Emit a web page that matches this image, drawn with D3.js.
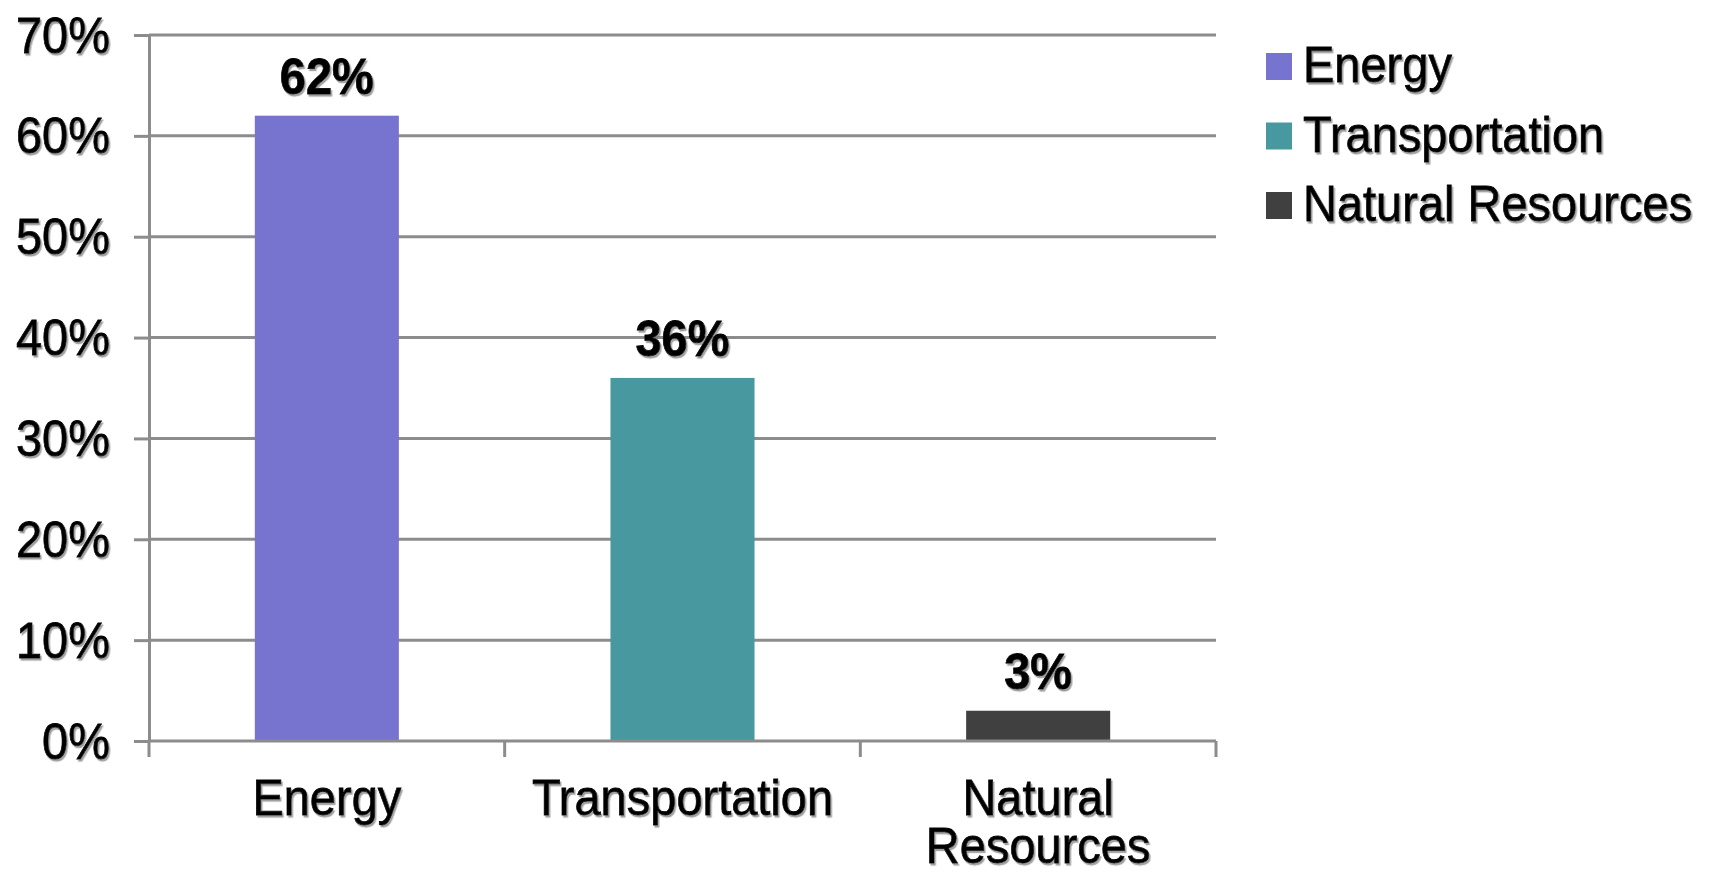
<!DOCTYPE html>
<html>
<head>
<meta charset="utf-8">
<script src="https://cdn.jsdelivr.net/npm/d3@7"></script>
<style>
  body { margin: 0; background: #fff; }
  text { font-family: "Liberation Sans", Arial, sans-serif; fill: #000; stroke: #000; stroke-width: 0.7px; }
</style>
</head>
<body>
<div id="chart"></div>
<script>
// chart data
var categories = ["Energy", "Transportation", "Natural Resources"];
var catLabels = [["Energy"], ["Transportation"], ["Natural", "Resources"]];
var shares = [0.62, 0.36, 0.03];
var valueLabels = ["62%", "36%", "3%"];
var colors = ["#7674cf", "#48999f", "#404040"];
var yTicks = [0, 0.1, 0.2, 0.3, 0.4, 0.5, 0.6, 0.7];

var W = 1717, H = 872;
var plot = {left: 149, right: 1216, top: 35, bottom: 741};
var fs = 47, stretch = 1.08;

var svg = d3.select("#chart")
            .append("svg")
            .attr("width", W)
            .attr("height", H);

// soft grey halo under the text, like the original rendering
var f = svg.append("defs").append("filter").attr("id", "halo")
           .attr("x", "-5%").attr("y", "-5%").attr("width", "110%").attr("height", "120%");
f.append("feDropShadow").attr("dx", 1.5).attr("dy", 2).attr("stdDeviation", 0.6)
 .attr("flood-color", "#777").attr("flood-opacity", 0.7);

var yScale = d3.scaleLinear()
               .domain([0, 0.7])
               .range([plot.bottom, plot.top]);
var xScale = d3.scaleBand()
               .domain(categories)
               .range([plot.left, plot.right]);
var step = xScale.step();
var barW = step * 0.405;

// gridlines
svg.append("g")
   .selectAll("line")
   .data(yTicks.slice(1))
   .enter()
   .append("line")
   .attr("x1", plot.left)
   .attr("x2", plot.right)
   .attr("y1", d=>yScale(d))
   .attr("y2", d=>yScale(d))
   .attr("stroke", "#8c8c8c")
   .attr("stroke-width", 3);

// y axis
var yAxis = svg.append("g")
               .attr("transform", "translate(" + plot.left + ",0)")
               .call(d3.axisLeft(yScale).tickValues(yTicks).tickSize(15).tickSizeOuter(0).tickFormat(d3.format(".0%")));
yAxis.select(".domain").attr("stroke", "#8c8c8c").attr("stroke-width", 3);
yAxis.selectAll(".tick line").attr("stroke", "#8c8c8c").attr("stroke-width", 3);
yAxis.selectAll(".tick text")
     .attr("x", null).attr("dy", null)
     .attr("text-anchor", "end")
     .attr("font-size", fs)
     .attr("filter", "url(#halo)")
     .attr("transform", "translate(-39,17) scale(1," + stretch + ")");

// bars
svg.append("g")
   .selectAll("rect")
   .data(categories)
   .enter()
   .append("rect")
   .attr("x", d=>xScale(d) + (step - barW) / 2)
   .attr("width", barW)
   .attr("y", (d, i)=>yScale(shares[i]))
   .attr("height", (d, i)=>yScale(0) - yScale(shares[i]))
   .attr("fill", (d, i)=>colors[i]);

// x axis line with boundary ticks
svg.append("line")
   .attr("x1", plot.left).attr("x2", plot.right)
   .attr("y1", yScale(0)).attr("y2", yScale(0))
   .attr("stroke", "#8c8c8c").attr("stroke-width", 3);
var bounds = categories.map(d=>xScale(d)).concat([plot.right]);
svg.append("g")
   .selectAll("line")
   .data(bounds)
   .enter()
   .append("line")
   .attr("x1", d=>d).attr("x2", d=>d)
   .attr("y1", yScale(0)).attr("y2", yScale(0) + 16)
   .attr("stroke", "#8c8c8c").attr("stroke-width", 3);

// value labels
svg.append("g")
   .selectAll("text")
   .data(categories)
   .enter()
   .append("text")
   .attr("transform", (d, i)=>"translate(" + (xScale(d) + step / 2) + "," + (yScale(shares[i]) - 22) + ") scale(1," + stretch + ")")
   .attr("text-anchor", "middle")
   .attr("font-size", fs)
   .attr("font-weight", "bold")
   .attr("filter", "url(#halo)")
   .text((d, i)=>valueLabels[i]);

// category labels
var cat = svg.append("g")
             .selectAll("g")
             .data(categories)
             .enter()
             .append("g");
cat.selectAll("text")
   .data((d, i)=>catLabels[i].map(t=>({t: t, c: d})))
   .enter()
   .append("text")
   .attr("transform", (d, j)=>"translate(" + (xScale(d.c) + step / 2) + "," + (815 + j * 48) + ") scale(1," + stretch + ")")
   .attr("text-anchor", "middle")
   .attr("font-size", fs)
   .attr("filter", "url(#halo)")
   .text(d=>d.t);

// legend
var legend = svg.append("g")
                .selectAll("g")
                .data(categories)
                .enter()
                .append("g")
                .attr("transform", (d, i)=>"translate(1266," + (53 + i * 69.5) + ")");
legend.append("rect")
      .attr("width", 26)
      .attr("height", 27)
      .attr("fill", (d, i)=>colors[i]);
legend.append("text")
      .attr("transform", "translate(37,29) scale(1," + stretch + ")")
      .attr("font-size", fs)
      .attr("filter", "url(#halo)")
      .text(d=>d);
</script>
</body>
</html>
